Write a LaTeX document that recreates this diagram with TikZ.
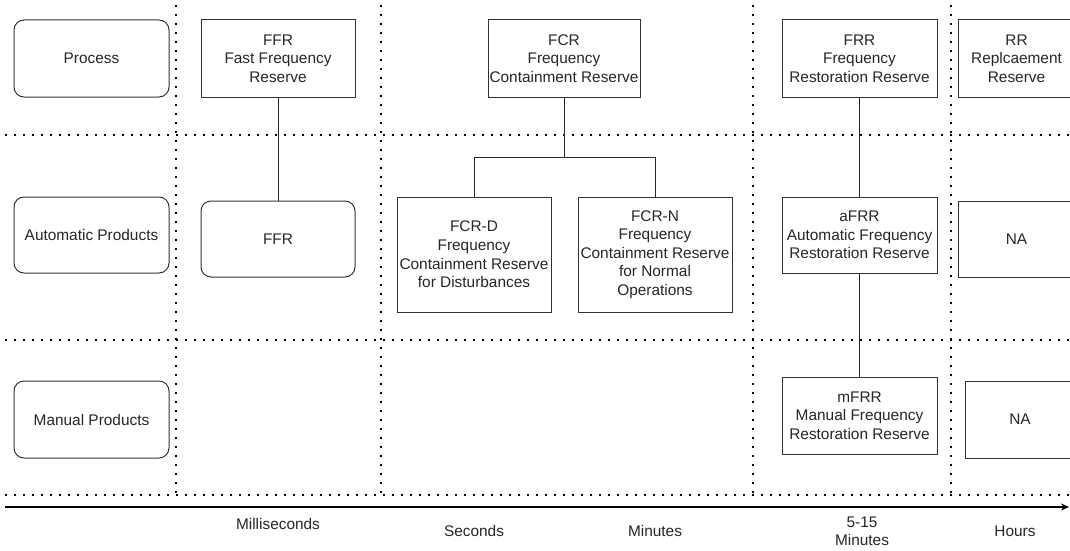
\documentclass[tikz,border=0pt]{standalone}
\usepackage{fontspec}
\setmainfont{Liberation Sans}
\usetikzlibrary{arrows.meta}

\begin{document}
\begin{tikzpicture}[x=1pt, y=-1pt,
    box/.style={draw=black!80, line width=1pt, align=center, inner sep=0pt,
        font=\fontsize{15.4}{18.6}\selectfont, text=black!85},
    rbox/.style={box, rounded corners=10pt},
    dotline/.style={line width=2.4pt, dash pattern=on 2.4pt off 6.6pt},
    link/.style={line width=1pt, black!85},
    tlabel/.style={align=center, font=\fontsize{15.4}{18}\selectfont, text=black!85}]
    \useasboundingbox (0,0) rectangle (1070,551);
    \clip (0,0) rectangle (1070,551);

    % grid
    \draw[dotline] (176,5) -- (176,495);
    \draw[dotline] (381,5) -- (381,495);
    \draw[dotline] (753,5) -- (753,495);
    \draw[dotline] (951,5) -- (951,495);
    \draw[dotline] (5,135) -- (1070,135);
    \draw[dotline] (5,340) -- (1070,340);
    \draw[dotline] (5,495) -- (1070,495);

    % row headers
    \node[rbox, minimum width=155pt, minimum height=77pt] (proc) at (91.5,58.5) {Process};
    \node[rbox, minimum width=155pt, minimum height=76pt] (auto) at (91.5,235) {Automatic Products};
    \node[rbox, minimum width=155pt, minimum height=77pt] (man) at (91.5,419.5) {Manual Products};

    % FFR
    \node[box, minimum width=154pt, minimum height=77pt] (ffr) at (278,58.5) {FFR\\Fast Frequency\\Reserve};
    \node[rbox, minimum width=154pt, minimum height=76pt] (ffrA) at (278,239) {FFR};

    % FCR
    \node[box, minimum width=152pt, minimum height=77pt] (fcr) at (564,58.5) {FCR\\Frequency\\Containment Reserve};
    \node[box, minimum width=154pt, minimum height=115pt] (fcrD) at (474,254.5) {FCR-D\\Frequency\\Containment Reserve\\for Disturbances};
    \node[box, minimum width=154pt, minimum height=115pt] (fcrN) at (655,254.5) {FCR-N\\Frequency\\Containment Reserve\\for Normal\\Operations};

    % FRR
    \node[box, minimum width=155pt, minimum height=77pt] (frr) at (859.5,58.5) {FRR\\Frequency\\Restoration Reserve};
    \node[box, minimum width=155pt, minimum height=76pt] (afrr) at (859.5,235) {aFRR\\Automatic Frequency\\Restoration Reserve};
    \node[box, minimum width=155pt, minimum height=77pt] (mfrr) at (859.5,415.5) {mFRR\\Manual Frequency\\Restoration Reserve};

    % RR
    \node[box, minimum width=117pt, minimum height=77pt] (rr) at (1016.5,58.5) {RR\\Replcaement\\Reserve};
    \node[box, minimum width=117pt, minimum height=76pt] (naA) at (1016.5,239) {NA};
    \node[box, minimum width=110pt, minimum height=77pt] (naM) at (1020,419.5) {NA};

    % links
    \coordinate (split) at (564,157);
    \draw[link] (ffr) to (ffrA);
    \draw[link] (fcr) to (split);
    \draw[link] (split) -| (fcrD.north);
    \draw[link] (split) -| (fcrN.north);
    \draw[link] (frr) to (afrr);
    \draw[link] (afrr) to (mfrr);

    % time axis
    \coordinate (t0) at (5,507);
    \coordinate (t9) at (1069,507);
    \draw[line width=1.3pt, -{Stealth[length=8pt, width=7pt]}] (t0) -- (t9);
    \node[tlabel] (ms) at (278,524) {Milliseconds};
    \node[tlabel] (sec) at (474,531) {Seconds};
    \node[tlabel] (min) at (655,531) {Minutes};
    \node[tlabel] (min15) at (862,531) {5-15\\Minutes};
    \node[tlabel] (hrs) at (1015,531) {Hours};
\end{tikzpicture}
\end{document}
